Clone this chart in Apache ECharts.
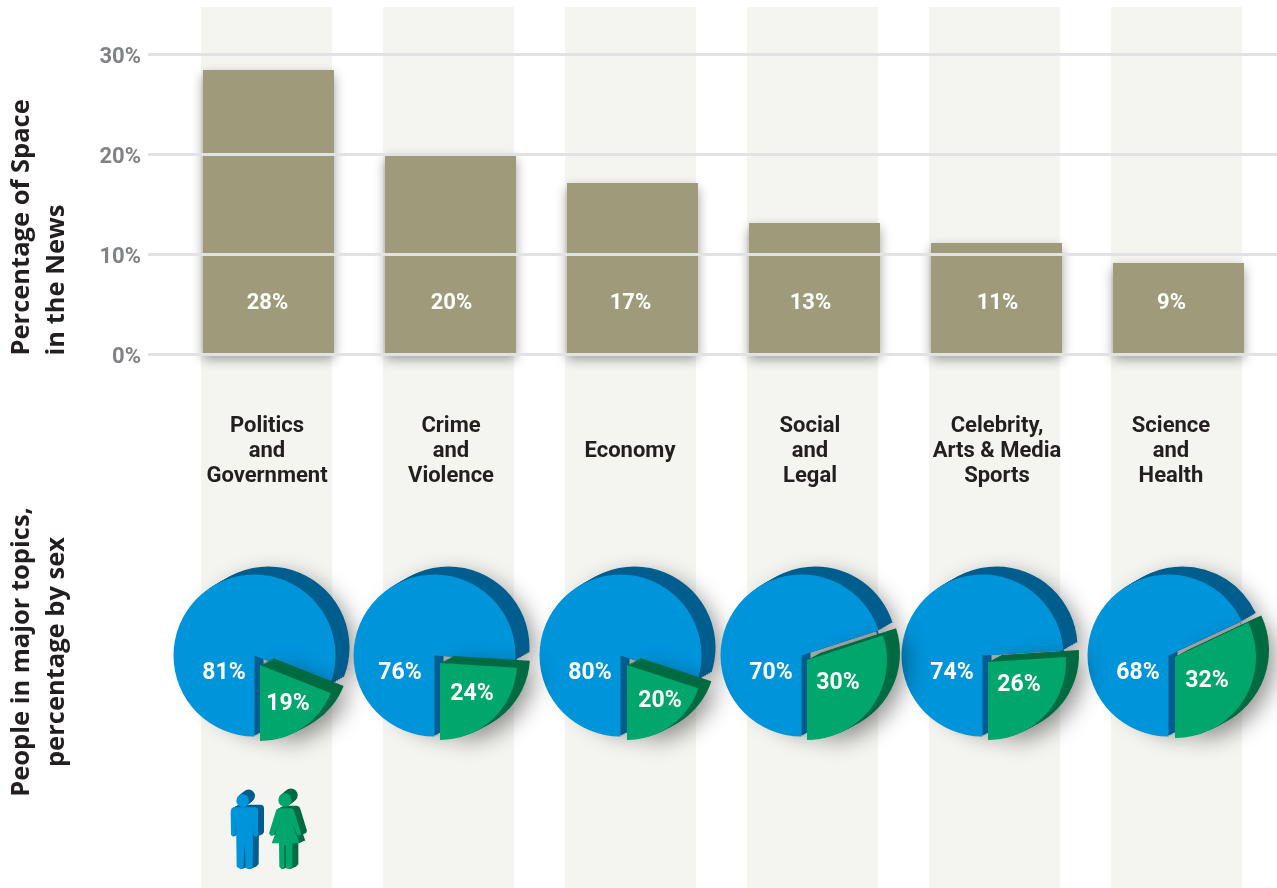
<!DOCTYPE html>
<html><head><meta charset="utf-8">
<style>html,body{margin:0;padding:0;background:#fff}#c{width:1277px;height:888px}</style>
<script src="https://cdn.jsdelivr.net/npm/echarts@6/dist/echarts.min.js"></script>
</head><body><div id="c"></div>
<script>
const categories = ['Politics\nand\nGovernment','Crime\nand\nViolence','Economy','Social\nand\nLegal','Celebrity,\nArts & Media\nSports','Science\nand\nHealth'];
const spaceShare = [28.4,20,17.1,13.1,11.1,9.1];
const menShare = [81,76,80,70,74,68];
const womenShare = [19,24,20,30,26,32];
const yTicks = [0,10,20,30];

const labelShift = [-1,1,-2,-4,1,-7];
const blueVertexX = [252,432,618,799,980,1166];
const greenVertex = [[260,665],[440,663],[627,665],[807,660],[988,662],[1175,657]];
const greenRadius = [76,77,75,80,78,81];
const menLabelX = [224,400,590,771,952,1138];
const womenLabelPos = [[288,701],[472,691],[660,698],[838,680],[1019,682],[1207,678]];

const C = {blue:'#0094DA',blueDark:'#005E8E',green:'#00A66C',greenDark:'#006B42',bar:'#9E9A7A',band:'#F4F5F0',
  grid:'#E1E2E3',tick:'#808285',ink:'#231F20',wall:'#A8A8A8'};
const FONT='Roboto';
const chart = echarts.init(document.getElementById('c'),null,{renderer:'canvas'});

const pieBase = {type:'pie',silent:true,animation:false,startAngle:270,clockwise:true,avoidLabelOverlap:false,
  label:{show:false},labelLine:{show:false},emphasis:{disabled:true}};
const series = [];
series.push({type:'bar',xAxisIndex:2,yAxisIndex:2,z:1,silent:true,animation:false,barWidth:131,
  itemStyle:{color:C.band},
  label:{show:true,position:'inside',color:C.ink,fontFamily:FONT,fontWeight:700,fontSize:22,lineHeight:25},
  data:categories.map((c,i)=>({value:1,label:{formatter:c,offset:[labelShift[i]+1.5,4]}}))});
series.push({type:'bar',xAxisIndex:1,yAxisIndex:1,z:2,silent:true,animation:false,barWidth:131,
  itemStyle:{color:C.bar,shadowColor:'rgba(0,0,0,0.38)',shadowBlur:11,shadowOffsetY:5},
  label:{show:true,position:'insideBottom',distance:40,color:'#fff',fontFamily:FONT,fontWeight:700,fontSize:22},
  data:spaceShare.map((v,i)=>({value:v,label:{formatter:Math.round(v)+'%',offset:[labelShift[i],0]}}))});

const none={color:'rgba(0,0,0,0)'};
function slice(i,center,radius,menStyle,womenStyle,z){
  series.push(Object.assign({},pieBase,{z,center,radius,
    data:[{name:'Men',value:menShare[i],itemStyle:menStyle},{name:'Women',value:womenShare[i],itemStyle:womenStyle}]}));
}
const shadow={shadowColor:'rgba(0,0,0,0.42)',shadowBlur:22,shadowOffsetX:6,shadowOffsetY:8};
const LAYERS=7, WALL=9;
categories.forEach((_,i)=>{
  const cx=blueVertexX[i]+2.5, cy=655.5, r=81;
  for(let k=LAYERS;k>=1;k--){
    const dx=14*k/LAYERS, dy=-8*k/LAYERS;
    slice(i,[cx+dx,cy+dy],r,Object.assign({color:C.blueDark},k===LAYERS?shadow:{}),none,10);
  }
  slice(i,[cx+WALL,cy+4],r-8,{color:C.blueDark},none,11);
  const phi=womenShare[i]*3.6*Math.PI/180;
  slice(i,[cx+WALL,cy+WALL*Math.cos(phi)/Math.sin(phi)],r-12,none,{color:C.wall},11);
  series.push(Object.assign({},pieBase,{z:12,center:[cx,cy],radius:r,
    labelLayout:p=>p.dataIndex===0?{x:menLabelX[i],y:673,align:'center',verticalAlign:'middle'}:{},
    data:[{name:'Men',value:menShare[i],itemStyle:{color:C.blue},
      label:{show:true,position:'inside',formatter:'{c}%',color:'#fff',fontFamily:FONT,fontWeight:700,fontSize:23}},
      {name:'Women',value:womenShare[i],itemStyle:none}]}));
  const [gx,gy]=greenVertex[i], gr=greenRadius[i];
  for(let k=LAYERS;k>=1;k--){
    const dx=13*k/LAYERS, dy=-7*k/LAYERS;
    slice(i,[gx+dx,gy+dy],gr,none,Object.assign({color:C.greenDark},k===LAYERS?shadow:{}),13);
  }
  series.push(Object.assign({},pieBase,{z:14,center:[gx,gy],radius:gr,
    labelLayout:p=>p.dataIndex===1?{x:womenLabelPos[i][0],y:womenLabelPos[i][1]+3,align:'center',verticalAlign:'middle'}:{},
    data:[{name:'Men',value:menShare[i],itemStyle:none},
      {name:'Women',value:womenShare[i],itemStyle:{color:C.green},
      label:{show:true,position:'inside',formatter:'{c}%',color:'#fff',fontFamily:FONT,fontWeight:700,fontSize:23}}]}));
});

const manPts=[[190,772],[255,772],[262,775],[264,782],[264,855],[258,862],[250,855],[249,805],[248,950],[240,958],[227,955],[224,880],[220,955],[212,958],[200,950],[198,805],[197,855],[190,860],[183,855],[182,785],[184,776]];
const womanPts=[[328,775],[362,775],[370,778],[373,785],[393,850],[390,858],[382,855],[365,815],[388,880],[367,880],[367,950],[360,958],[348,955],[347,885],[343,885],[343,955],[335,958],[328,950],[327,880],[305,880],[330,815],[312,855],[303,858],[297,850],[317,785],[320,778]];
function person(pts,hx,hy,hr,face,dark,ddx,ddy){
  const out=[];
  for(let k=6;k>=1;k--){
    const sx=ddx*k/6, sy=ddy*k/6;
    out.push({type:'polygon',z:20,shape:{points:pts.map(p=>[p[0]+sx,p[1]+sy])},style:{fill:dark}});
    out.push({type:'circle',z:20,shape:{cx:hx+sx,cy:hy+sy*1.8,r:hr},style:{fill:dark}});
  }
  out.push({type:'polygon',z:21,shape:{points:pts},style:{fill:face}});
  out.push({type:'circle',z:21,shape:{cx:hx,cy:hy,r:hr},style:{fill:face}});
  return out;
}

chart.setOption({
  animation:false,backgroundColor:'#fff',
  grid:[
    {left:148,right:0,top:54,height:300},
    {left:177.5,width:1092,top:54,height:300},
    {left:175.5,width:1092,top:7,height:881}
  ],
  xAxis:[
    {type:'value',gridIndex:0,show:false,min:0,max:1},
    {type:'category',gridIndex:1,show:false,data:categories},
    {type:'category',gridIndex:2,show:false,data:categories}
  ],
  yAxis:[
    {type:'value',gridIndex:0,z:3,min:0,max:30,interval:10,
      axisLine:{show:false},axisTick:{show:false},
      axisLabel:{margin:7,color:C.tick,fontFamily:FONT,fontWeight:700,fontSize:22,verticalAlign:'top',lineHeight:6,
        formatter:v=>yTicks.includes(v)?v+'%':''},
      splitLine:{show:true,lineStyle:{color:C.grid,width:3}}},
    {type:'value',gridIndex:1,show:false,min:0,max:30,splitLine:{show:false}},
    {type:'value',gridIndex:2,show:false,min:0,max:1,splitLine:{show:false}}
  ],
  series,
  graphic:[
    {type:'text',x:39.5,y:355.5,rotation:Math.PI/2,z:20,style:{text:'Percentage of Space\nin the News',align:'left',verticalAlign:'middle',
      fill:C.ink,font:'700 25.5px "Open Sans"',lineHeight:35}},
    {type:'text',x:39.5,y:652,rotation:Math.PI/2,z:20,style:{text:'People in major topics,\npercentage by sex',align:'center',verticalAlign:'middle',
      fill:C.ink,font:'700 25.5px "Open Sans"',lineHeight:35}},
    {type:'group',x:170,y:550,scaleX:1/3,scaleY:1/3,z:20,children:[
      ...person(manPts,218,752,19,C.blue,C.blueDark,18,-8),
      ...person(womanPts,345,750,20,C.green,C.greenDark,18,-8)
    ]}
  ]
});
</script></body></html>
